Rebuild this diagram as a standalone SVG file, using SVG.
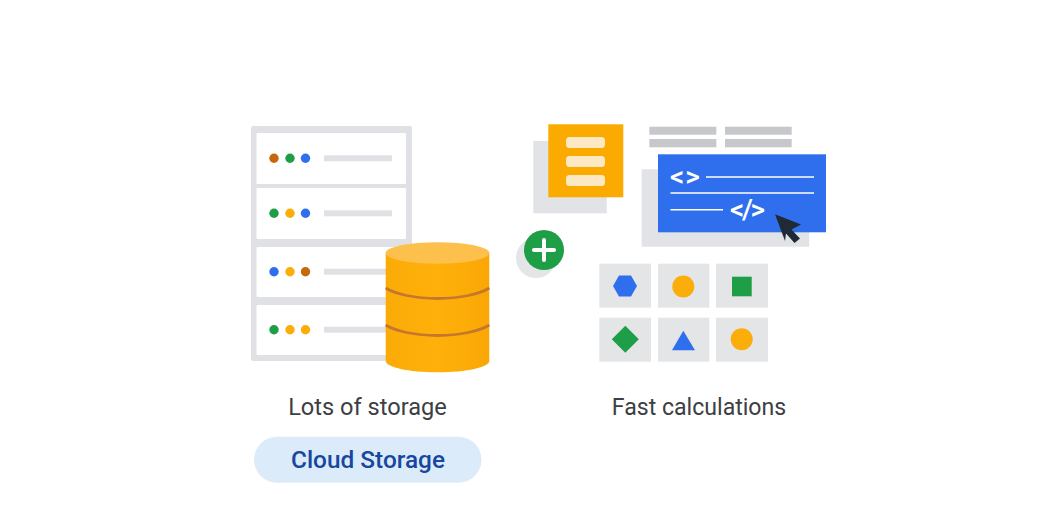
<svg xmlns="http://www.w3.org/2000/svg" width="1043" height="528" viewBox="0 0 1043 528">
<style>
.row{fill:#fff}.bar{fill:#dfe1e4}.o{fill:#fbad0a}.g{fill:#1e9e47}.b{fill:#2f6fed}.br{fill:#c5680c}
.tile{fill:#e4e5e7}.gb{fill:#c6c8cb}.back{fill:#e2e3e6}.wl{stroke:#fff;stroke-width:1.6;fill:none}
.lab{font-family:Roboto,"Liberation Sans",sans-serif;font-size:23.6px;fill:#3c4043;text-anchor:middle}
.code{font-family:Roboto,"Liberation Sans",sans-serif;font-size:28px;font-weight:500;fill:#fff;text-anchor:middle}
.cb{fill:#fce8c2}
</style>
<defs>
<linearGradient id="cyl" x1="0" x2="1" y1="0" y2="0"><stop offset="0" stop-color="#fbab07"/><stop offset="0.5" stop-color="#ffb00a"/><stop offset="1" stop-color="#faa705"/></linearGradient>
</defs>
<rect width="1043" height="528" fill="#fff"/>
<g id="server-rack">
<rect x="251" y="126" width="161" height="235" rx="2" fill="#dfe1e4"/>
<rect class="row" x="256.500" y="133" width="149.500" height="51" rx="1"/>
<rect class="row" x="256.500" y="188" width="149.500" height="51" rx="1"/>
<rect class="row" x="256.500" y="247" width="149.500" height="50" rx="1"/>
<rect class="row" x="256.500" y="305" width="149.500" height="50" rx="1"/>
<circle class="br" cx="274" cy="158.300" r="4.700"/><circle class="g" cx="290" cy="158.300" r="4.700"/><circle class="b" cx="305.500" cy="158.300" r="4.700"/>
<circle class="g" cx="274" cy="213.300" r="4.700"/><circle class="o" cx="290" cy="213.300" r="4.700"/><circle class="b" cx="305.500" cy="213.300" r="4.700"/>
<circle class="b" cx="274" cy="271.700" r="4.700"/><circle class="o" cx="290" cy="271.700" r="4.700"/><circle class="br" cx="305.500" cy="271.700" r="4.700"/>
<circle class="g" cx="274" cy="329.700" r="4.700"/><circle class="o" cx="290" cy="329.700" r="4.700"/><circle class="o" cx="305.500" cy="329.700" r="4.700"/>
<rect class="bar" x="324" y="155.300" width="68" height="6"/>
<rect class="bar" x="324" y="210.300" width="68" height="6"/>
<rect class="bar" x="324" y="268.700" width="68" height="6"/>
<rect class="bar" x="324" y="326.700" width="68" height="6"/>
</g>
<g id="database">
<path d="M385.700 253V361C385.700 367 408 372.300 437.500 372.300S489.300 367 489.300 361V253Z" fill="url(#cyl)"/>
<ellipse cx="437.500" cy="253" rx="51.800" ry="10.800" fill="#fdc04d"/>
<path d="M385.700 288C395 294 415 298.500 437.500 298.500S480 294 489.300 288" fill="none" stroke="#c5782c" stroke-width="2.800"/>
<path d="M385.700 325C395 331 415 335.500 437.500 335.500S480 331 489.300 325" fill="none" stroke="#c5782c" stroke-width="2.800"/>
</g>
<g id="plus">
<circle cx="536" cy="258" r="20" fill="#e4e5e7"/>
<circle cx="544" cy="250" r="20" fill="#1e9e47"/>
<path d="M534 250H554M544 240V260" stroke="#fff" stroke-width="4" stroke-linecap="round"/>
</g>
<g id="document">
<rect class="back" x="533.300" y="141" width="73.400" height="72.300"/>
<rect x="548.300" y="124.300" width="75" height="73" fill="#fbab00"/>
<rect class="cb" x="566" y="137" width="39" height="11" rx="3.500"/>
<rect class="cb" x="566" y="156" width="39" height="11" rx="3.500"/>
<rect class="cb" x="566" y="175" width="39" height="11" rx="3.500"/>
</g>
<g id="code-window">
<rect class="gb" x="649.300" y="126.700" width="67" height="8"/>
<rect class="gb" x="725" y="126.700" width="66.700" height="8"/>
<rect class="gb" x="649.300" y="139" width="67" height="8.300"/>
<rect class="gb" x="725" y="139" width="66.700" height="8.300"/>
<rect class="back" x="641.700" y="169.300" width="167.600" height="77.400"/>
<rect x="658" y="154.300" width="168" height="78" fill="#2f6fed"/>
<text class="code" x="685.500" y="186" letter-spacing="1">&lt;&gt;</text>
<path class="wl" d="M706 177H814M670.500 193H814M670.500 209.700H723"/>
<text class="code" x="747.500" y="219" textLength="35" lengthAdjust="spacing">&lt;/&gt;</text>
<path d="M775 214.300L801 224.500L791.500 229.500L800 238.500L794.500 243L786 233.500L785 241Z" fill="#202a36"/>
</g>
<g id="shape-grid">
<rect class="tile" x="599.300" y="263.700" width="51.700" height="44"/>
<rect class="tile" x="658" y="263.700" width="51.300" height="44"/>
<rect class="tile" x="716" y="263.700" width="52" height="44"/>
<rect class="tile" x="599.300" y="317.700" width="51.700" height="44"/>
<rect class="tile" x="658" y="317.700" width="51.300" height="44"/>
<rect class="tile" x="716" y="317.700" width="52" height="44"/>
<polygon class="b" points="613,286 619,275.500 631,275.500 637,286 631,296.500 619,296.500"/>
<circle class="o" cx="683.300" cy="286.500" r="11"/>
<rect class="g" x="732" y="276.700" width="19.700" height="19.600"/>
<polygon class="g" points="625.300,325.800 638.800,339.300 625.300,352.800 611.800,339.300"/>
<polygon class="b" points="683.300,330.700 695,350.300 672,350.300"/>
<circle class="o" cx="741.700" cy="339.300" r="11"/>
</g>
<g id="label-left"><text class="lab" x="367.500" y="414.500">Lots of storage</text></g>
<g id="label-right"><text class="lab" x="699" y="414.500" style="font-size:23.1px">Fast calculations</text></g>
<g id="cloud-storage">
<rect x="254" y="436.700" width="227.500" height="46" rx="23" fill="#dcebfa"/>
<text x="368" y="468" text-anchor="middle" font-family="Roboto,'Liberation Sans',sans-serif" font-size="24.400" font-weight="500" fill="#17479e">Cloud Storage</text>
</g>
<g id="connectors"></g>
</svg>
